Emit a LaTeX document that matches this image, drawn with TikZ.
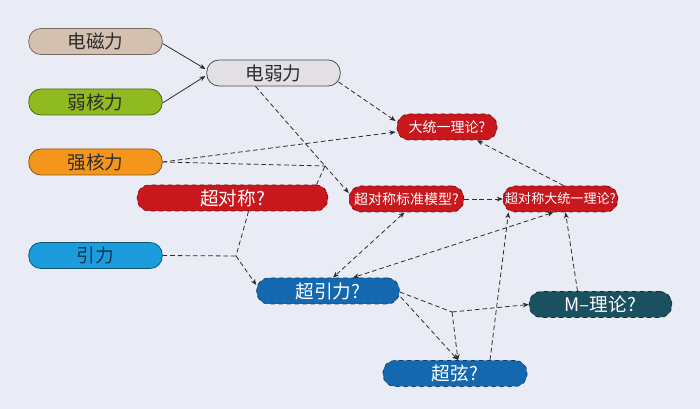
\documentclass[tikz,border=0pt]{standalone}
\usepackage{fontspec}
\setmainfont{Noto Sans CJK SC}
\usetikzlibrary{arrows.meta}
\definecolor{bgc}{RGB}{233,236,244}
\definecolor{ink}{RGB}{45,45,45}
\definecolor{emc}{RGB}{212,192,174}
\definecolor{wkc}{RGB}{143,186,32}
\definecolor{skc}{RGB}{245,150,28}
\definecolor{grc}{RGB}{28,156,220}
\definecolor{ewc}{RGB}{226,224,229}
\definecolor{redc}{RGB}{200,24,30}
\definecolor{bluec}{RGB}{20,104,176}
\definecolor{tealc}{RGB}{26,80,96}
\tikzset{
  force/.style={draw=#1!55!black, rectangle, rounded corners=9pt, line width=0.6pt,
    minimum height=19.5pt, inner sep=0pt, text=ink, font=\fontsize{14}{16}\selectfont},
  guess/.style={fill=#1, draw=#1!60!black, dashed, rectangle, rounded corners=9pt, line width=0.6pt,
    minimum height=19.5pt, inner sep=0pt, text=white, font=\fontsize{14}{16}\selectfont},
  small/.style={font=\fontsize{10.5}{12}\selectfont},
  smaller/.style={font=\fontsize{9.8}{12}\selectfont},
  link/.style={draw=ink, line width=0.6pt, dash pattern=on 3.5pt off 2.2pt},
}
\begin{document}
\begin{tikzpicture}[x=0.75pt, y=-0.75pt, >={Stealth[length=4.5pt,width=3.6pt]}]
\fill[bgc] (0,0) rectangle (700,409);
\useasboundingbox (0,0) rectangle (700,409);
% forces
\node[force=emc, fill=emc, minimum width=100pt] (em) at (95.5,41.5) {电磁力};
\node[force=wkc, fill=wkc, minimum width=100pt] (wk) at (95.5,102) {弱核力};
\node[force=skc, fill=skc, minimum width=100pt] (sk) at (95.5,162) {强核力};
\node[force=grc, fill=grc, minimum width=100pt, text=grc!35!black] (gr) at (95.5,255.5) {引力};
\node[force=ewc, fill=ewc, draw=black!70, minimum width=100pt] (ew) at (273.5,73) {电弱力};
% open questions
\node[guess=redc, minimum width=143pt] (susy) at (232.5,198) {超对称?};
\node[guess=redc, small, minimum width=75pt] (gut) at (447,127) {大统一理论?};
\node[guess=redc, small, minimum width=86pt] (ssm) at (406.5,199) {超对称标准模型?};
\node[guess=redc, smaller, minimum width=86pt] (sgut) at (560.5,199) {超对称大统一理论?};
\node[guess=bluec, minimum width=107pt] (sugra) at (328,291) {超引力?};
\node[guess=tealc, minimum width=107pt] (mth) at (600.5,304.5) {M–理论?};
\node[guess=bluec, minimum width=108pt] (str) at (455,373.5) {超弦?};
% junctions
\coordinate (j1) at (325,166);
\coordinate (j2) at (236,256);
\coordinate (j3) at (452,312);
\draw[->, draw=ink, line width=0.6pt] ([shift={(0,2)}]em.east) -- ([shift={(-1,-4)}]ew.west);
\draw[->, draw=ink, line width=0.6pt] ([shift={(0,1)}]wk.east) -- ([shift={(-1,3)}]ew.west);
\draw[->, link] ([shift={(-2,9)}]ew.east) -- ([shift={(-1,-6)}]gut.west);
\draw[->, link] (sk.east) -- ([shift={(-1,5)}]gut.west);
\draw[link] (sk.east) -- (j1);
\draw[link] ([shift={(84,0)}]susy.north) -- (j1);
\draw[link] ([shift={(-18,0)}]ew.south) -- (j1);
\draw[->, link] (j1) -- ([shift={(0,-6)}]ssm.west);
\draw[link] (gr.east) -- (j2);
\draw[link] ([shift={(16,0)}]susy.south) -- (j2);
\draw[->, link] (j2) -- ([shift={(0,-6)}]sugra.west);
\draw[<->, link] ([shift={(-2,0)}]ssm.south) -- ([shift={(5,0)}]sugra.north);
\draw[<->, link] ([shift={(-7,0)}]sgut.south) -- ([shift={(25,0)}]sugra.north);
\draw[->, link] (ssm.east) -- (sgut.west);
\draw[->, link] ([shift={(3,0)}]sgut.north) -- ([shift={(30,0)}]gut.south);
\draw[->, link] ([shift={(-23,0)}]mth.north) -- ([shift={(5,0)}]sgut.south);
\draw[->, link] ([shift={(35,0)}]str.north) -- ([shift={(-52,0)}]sgut.south);
\draw[link] ([shift={(0,1)}]sugra.east) -- (j3);
\draw[->, link] (j3) -- (mth.west);
\draw[->, link] (j3) -- ([shift={(3,0)}]str.north);
\draw[->, link] ([shift={(1,6)}]sugra.east) -- ([shift={(3,0)}]str.north);
\end{tikzpicture}
\end{document}
